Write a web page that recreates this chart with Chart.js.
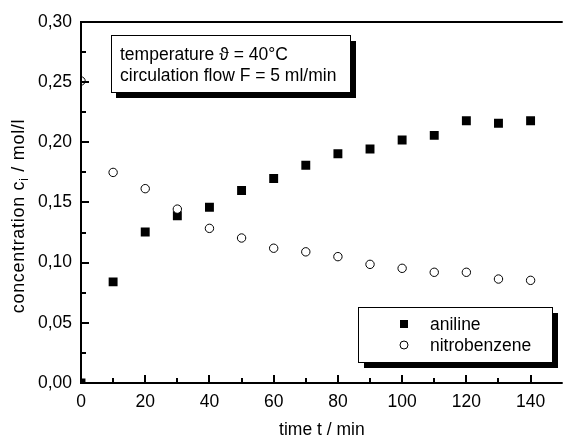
<!DOCTYPE html>
<html>
<head>
<meta charset="utf-8">
<script src="https://cdn.jsdelivr.net/npm/chart.js@4.4.1/dist/chart.umd.min.js"></script>
<style>
  html, body { margin: 0; padding: 0; background: #fff; }
</style>
</head>
<body>
<canvas id="chart" width="569" height="438"></canvas>
<script>
var timeMin = [0, 10, 20, 30, 40, 50, 60, 70, 80, 90, 100, 110, 120, 130, 140];
var aniline = [0, 0.084, 0.1255, 0.139, 0.146, 0.160, 0.170, 0.181, 0.1905, 0.1945, 0.202, 0.2058, 0.218, 0.2158, 0.218];
var nitrobenzene = [0.251, 0.175, 0.1615, 0.1445, 0.1285, 0.1205, 0.112, 0.109, 0.105, 0.0986, 0.0953, 0.092, 0.092, 0.0864, 0.0853];
var xTicks = [0, 20, 40, 60, 80, 100, 120, 140];
var yTicks = [0, 0.05, 0.10, 0.15, 0.20, 0.25, 0.30];
var seriesNames = ['aniline', 'nitrobenzene'];
var infoLines = ['temperature \u03D1 = 40\u00B0C', 'circulation flow F = 5 ml/min'];

var FONT = "'Liberation Sans', Arial, sans-serif";
Chart.defaults.font.family = FONT;
Chart.defaults.color = '#000';

function pairs(ys) {
  return timeMin.map(function(t, i) { return { x: t, y: ys[i] }; });
}

// frame, inward ticks, boxes and axis titles
var decorations = {
  id: 'decorations',
  afterDraw: function(chart) {
    var ctx = chart.ctx, a = chart.chartArea;
    var xs = chart.scales.x, ys = chart.scales.y;
    ctx.save();
    ctx.strokeStyle = '#000';
    ctx.lineWidth = 2;
    ctx.beginPath();
    ctx.moveTo(a.left - 1, a.top); ctx.lineTo(a.right, a.top);
    ctx.moveTo(a.left, a.top); ctx.lineTo(a.left, a.bottom + 1);
    ctx.moveTo(a.left - 1, a.bottom); ctx.lineTo(a.right, a.bottom);
    for (var t = 10; t <= 140; t += 10) {
      var px = Math.round(xs.getPixelForValue(t));
      var len = t % 20 === 0 ? 8 : 5;
      ctx.moveTo(px, a.bottom); ctx.lineTo(px, a.bottom - len);
    }
    for (var i = 1; i < 12; i++) {
      var py = Math.round(ys.getPixelForValue(i * 0.025));
      var l2 = i % 2 === 0 ? 8 : 5;
      ctx.moveTo(a.left, py); ctx.lineTo(a.left + l2, py);
    }
    ctx.stroke();

    // info box
    ctx.fillStyle = '#000';
    ctx.fillRect(116, 41, 240, 57);
    ctx.fillStyle = '#fff';
    ctx.fillRect(111, 35, 239, 57);
    ctx.lineWidth = 1;
    ctx.strokeRect(111.5, 35.5, 239, 57);
    ctx.fillStyle = '#000';
    ctx.font = '17.5px ' + FONT;
    ctx.textAlign = 'left';
    ctx.textBaseline = 'alphabetic';
    ctx.fillText(infoLines[0], 120, 60);
    ctx.fillText(infoLines[1], 120, 81);

    // legend box
    ctx.fillRect(364, 313, 194, 55);
    ctx.fillStyle = '#fff';
    ctx.fillRect(358, 307, 194, 55);
    ctx.strokeRect(358.5, 307.5, 194, 55);
    var rows = [324, 345];
    chart.data.datasets.forEach(function(ds, k) {
      var cy = rows[k];
      ctx.lineWidth = 1;
      if (ds.pointStyle === 'rect') {
        ctx.fillStyle = '#000';
        ctx.fillRect(400, cy - 4, 8, 8);
      } else {
        ctx.beginPath();
        ctx.arc(404, cy, 4, 0, Math.PI * 2);
        ctx.fillStyle = '#fff';
        ctx.fill();
        ctx.stroke();
      }
      ctx.fillStyle = '#000';
      ctx.font = '17.5px ' + FONT;
      ctx.textBaseline = 'middle';
      ctx.fillText(ds.label, 430, cy + 1);
    });

    // x title
    ctx.font = '17.5px ' + FONT;
    ctx.textAlign = 'center';
    ctx.textBaseline = 'alphabetic';
    ctx.fillText('time t / min', (a.left + a.right) / 2, 435);

    // y title with subscript
    var big = '18px ' + FONT, small = '12px ' + FONT;
    var p1 = 'concentration c', p2 = 'i', p3 = ' / mol/l';
    ctx.letterSpacing = '0.7px';
    ctx.font = big; var w1 = ctx.measureText(p1).width, w3 = ctx.measureText(p3).width;
    ctx.font = small; var w2 = ctx.measureText(p2).width;
    var total = w1 + w2 + w3;
    ctx.translate(24, 216);
    ctx.rotate(-Math.PI / 2);
    ctx.textAlign = 'left';
    var x0 = -total / 2;
    ctx.font = big; ctx.fillText(p1, x0, 0);
    ctx.font = small; ctx.fillText(p2, x0 + w1, 4);
    ctx.font = big; ctx.fillText(p3, x0 + w1 + w2, 0);
    ctx.restore();
  }
};

new Chart(document.getElementById('chart').getContext('2d'), {
  type: 'scatter',
  data: {
    datasets: [{
      label: seriesNames[0],
      data: pairs(aniline),
      pointStyle: 'rect',
      pointRadius: 6.3,
      pointHoverRadius: 6.3,
      pointBackgroundColor: '#000',
      pointBorderWidth: 0,
      borderColor: '#000',
      clip: 0,
      order: 2
    }, {
      label: seriesNames[1],
      data: pairs(nitrobenzene),
      pointStyle: 'circle',
      pointRadius: 4.2,
      pointHoverRadius: 4.2,
      pointBackgroundColor: '#fff',
      pointBorderColor: '#000',
      pointBorderWidth: 1,
      clip: 0,
      order: 1
    }]
  },
  options: {
    responsive: false,
    animation: false,
    layout: { padding: { top: 22, right: 0, left: 0, bottom: 0 } },
    plugins: { legend: { display: false }, tooltip: { enabled: false } },
    scales: {
      x: {
        type: 'linear',
        min: 0, max: 150,
        grid: { display: false, drawTicks: false },
        border: { display: false },
        afterBuildTicks: function(s) { s.ticks = xTicks.map(function(v) { return { value: v }; }); },
        afterFit: function(s) { s.height = 55; },
        ticks: { padding: 9, font: { size: 17.5 }, maxRotation: 0 }
      },
      y: {
        min: 0, max: 0.30,
        grid: { display: false, drawTicks: false },
        border: { display: false },
        afterBuildTicks: function(s) { s.ticks = yTicks.map(function(v) { return { value: v }; }); },
        afterFit: function(s) { s.width = 81; },
        ticks: {
          padding: 9,
          font: { size: 17.5 },
          callback: function(v) { return Number(v).toFixed(2).replace('.', ','); }
        }
      }
    }
  },
  plugins: [decorations]
});
</script>
</body>
</html>
